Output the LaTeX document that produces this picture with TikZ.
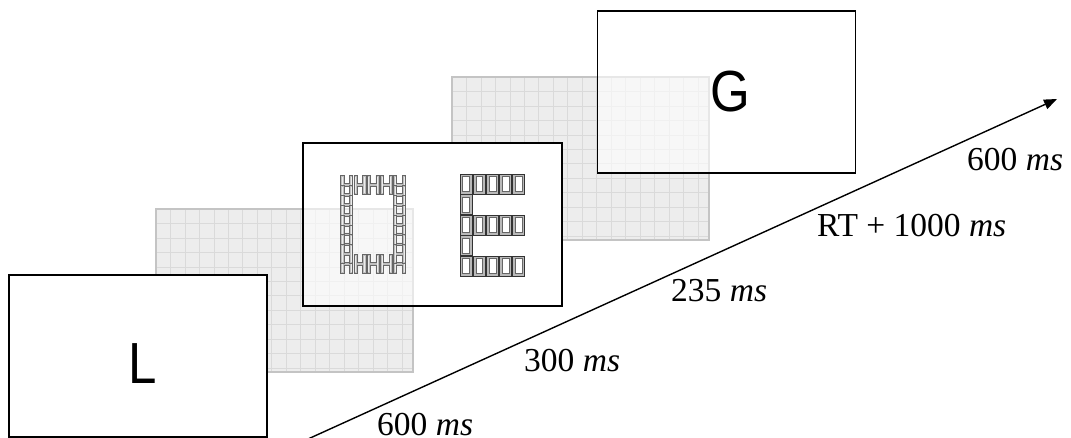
\documentclass[tikz,border=0pt]{standalone}
\usepackage{fontspec}
\setmainfont{Liberation Serif}
\newfontfamily\lettersans{Liberation Sans}
\usetikzlibrary{arrows.meta}
\definecolor{gboxfill}{HTML}{EDEDED}
\definecolor{ggrid}{HTML}{DADADA}
\definecolor{gborder}{HTML}{C4C4C4}
\newcommand\blankgrid[4]{%
  \foreach \gx in {1,...,17}{\draw[gridline] ({#1+\gx*14.47},#2) -- ({#1+\gx*14.47},#4);}%
  \foreach \gy in {1,...,11}{\draw[gridline] (#1,{#2+\gy*14.47}) -- (#3,{#2+\gy*14.47});}%
}
\tikzset{
  framebox/.style={draw=black, line width=1.6pt, inner sep=0pt, minimum width=258pt, minimum height=162pt},
  blankbox/.style={fill=gboxfill, inner sep=0pt, minimum width=257pt, minimum height=163pt},
  blankedge/.style={draw=gborder, line width=1.6pt},
  bigletter/.style={font=\lettersans\fontsize{58}{58}\selectfont, inner sep=0pt, anchor=base, xscale=0.88},
  timelabel/.style={font=\fontsize{33.5}{33.5}\selectfont, inner sep=0pt, anchor=base west},
  gridline/.style={draw=ggrid, line width=0.7pt},
  hglyph/.pic={
    \filldraw[fill=gray!50, draw=black!60, line width=0.6pt]
      (-6,-9.5) -- (-2.8,-9.5) -- (-2.8,-1.4) -- (2.8,-1.4) -- (2.8,-9.5) -- (6,-9.5)
      -- (6,9.5) -- (2.8,9.5) -- (2.8,1.4) -- (-2.8,1.4) -- (-2.8,9.5) -- (-6,9.5) -- cycle;
    \draw[white!85!gray, line width=0.5pt] (-4.4,-8.3) -- (-4.4,8.3) (4.4,-8.3) -- (4.4,8.3);
  },
  boxglyph/.pic={
    \filldraw[fill=gray!55, draw=black!80, line width=0.7pt] (-6,-10) rectangle (6,10);
    \filldraw[fill=white, draw=black!60, line width=0.5pt] (-3.4,-7.4) rectangle (3.4,7.4);
  }
}
\begin{document}
\begin{tikzpicture}[x=1pt,y=-1pt]
\useasboundingbox (0,0) rectangle (1071,438);
% blank frame 2 (behind G)
\node[blankbox] (b2) at (580.5,158.5) {};
\blankgrid{452}{77}{709}{240}
\draw[blankedge] (b2.north west) rectangle (b2.south east);
% G frame
\node[framebox, fill=white, fill opacity=0.6, draw opacity=1] (fG) at (726.5,92) {};
\node[bigletter] (tG) at (730.5,112) {G};
% middle frame: opaque base
\fill[white] (303,143) rectangle (562,306);
% blank frame 1
\node[blankbox] (b1) at (284.5,290.5) {};
\blankgrid{156}{209}{413}{372}
\draw[blankedge] (b1.north west) rectangle (b1.south east);
% middle frame
\node[framebox, minimum width=259pt, minimum height=163pt, fill=white, fill opacity=0.6, draw opacity=1] (fM) at (432.5,224.5) {};
% H pattern
\foreach \k in {0,...,4}{
  \pic at ({346.6+\k*13.2},185) {hglyph};
  \pic at ({346.6+\k*13.2},264) {hglyph};
}
\foreach \j in {1,...,7}{
  \pic at (346.6,{185+\j*9.875}) {hglyph};
  \pic at (399.4,{185+\j*9.875}) {hglyph};
}
% E pattern
\foreach \k in {0,...,4}{
  \pic at ({466+\k*13.2},184) {boxglyph};
  \pic at ({466+\k*13.2},225) {boxglyph};
  \pic at ({466+\k*13.2},266) {boxglyph};
}
\pic at (466,204.5) {boxglyph};
\pic at (466,245.5) {boxglyph};
% L frame
\node[framebox, fill=white] (fL) at (138,356) {};
\node[bigletter] (tL) at (143,383) {L};
% time axis
\coordinate (t0) at (308,439);
\coordinate (t1) at (1057,99);
\draw[line width=1.4pt, -{Triangle[length=13pt,width=10pt]}] (t0) -- (t1);
\node[timelabel] (l1) at (377,435) {600 \textit{ms}};
\node[timelabel] (l2) at (524,371) {300 \textit{ms}};
\node[timelabel] (l3) at (671,302) {235 \textit{ms}};
\node[timelabel] (l4) at (817,237) {RT + 1000 \textit{ms}};
\node[timelabel] (l5) at (967,171) {600 \textit{ms}};
\end{tikzpicture}
\end{document}
